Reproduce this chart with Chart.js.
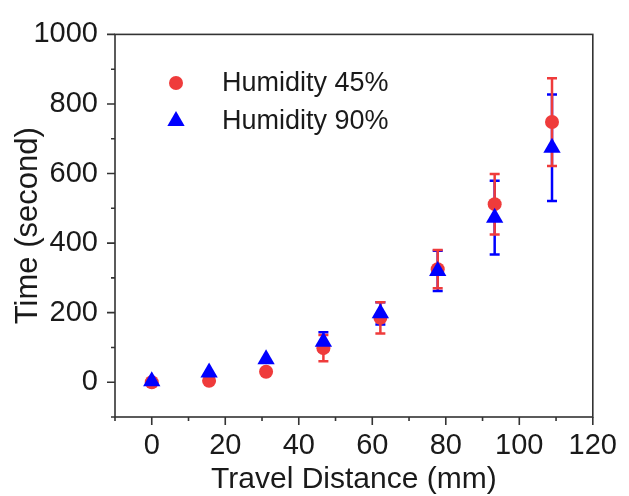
<!DOCTYPE html>
<html>
<head>
<meta charset="utf-8">
<script src="https://cdn.jsdelivr.net/npm/chart.js@4/dist/chart.umd.min.js"></script>
<style>
  html, body { margin: 0; padding: 0; background: #fff; }
  #wrap { width: 629px; height: 496px; }
</style>
</head>
<body>
<div id="wrap"><canvas id="chart" width="629" height="496"></canvas></div>
<script>
const distance = [0, 15.6, 31.1, 46.7, 62.2, 77.8, 93.3, 108.9];
const humidity45 = [0, 4, 30, 98, 185, 325, 512, 748];
const humidity45Err = [0, 0, 0, 38, 45, 55, 87, 126];
const humidity90 = [3, 28, 66, 116, 198, 320, 473, 674];
const humidity90Err = [0, 0, 0, 28, 32, 58, 106, 153];
const seriesLabels = ['Humidity 45%', 'Humidity 90%'];

const RED = '#ef3b3b';
const BLUE = '#0000ff';
const FONT = '"Liberation Sans", Arial, sans-serif';

const toPoints = vals => vals.map((v, i) => ({ x: distance[i], y: v }));

// error bars go under the markers
const errorBars = {
  id: 'errorBars',
  beforeDatasetsDraw(chart) {
    const { ctx, scales: { x, y } } = chart;
    [[1, humidity90Err], [0, humidity45Err]].forEach(([di, errs]) => {
      const ds = chart.data.datasets[di];
      ctx.save();
      ctx.strokeStyle = ds.backgroundColor;
      ctx.lineWidth = 2.5;
      ds.data.forEach((p, i) => {
        if (!errs[i]) return;
        const px = x.getPixelForValue(p.x);
        const top = y.getPixelForValue(p.y + errs[i]);
        const bot = y.getPixelForValue(p.y - errs[i]);
        ctx.beginPath();
        ctx.moveTo(px, top); ctx.lineTo(px, bot);
        ctx.moveTo(px - 5, top); ctx.lineTo(px + 5, top);
        ctx.moveTo(px - 5, bot); ctx.lineTo(px + 5, bot);
        ctx.stroke();
      });
      ctx.restore();
    });
  }
};

// box frame and outward ticks (major + minor)
const frame = {
  id: 'frame',
  afterDraw(chart) {
    const { ctx, chartArea: a, scales: { x, y } } = chart;
    ctx.save();
    ctx.strokeStyle = '#333';
    ctx.lineWidth = 1.6;
    ctx.strokeRect(a.left, a.top, a.right - a.left, a.bottom - a.top);
    ctx.beginPath();
    x.ticks.forEach(t => {
      const px = x.getPixelForValue(t.value);
      const len = t.value % 20 === 0 ? 8 : 4;
      ctx.moveTo(px, a.bottom); ctx.lineTo(px, a.bottom + len);
    });
    y.ticks.forEach(t => {
      const py = y.getPixelForValue(t.value);
      const len = t.value % 200 === 0 ? 8 : 4;
      ctx.moveTo(a.left - len, py); ctx.lineTo(a.left, py);
    });
    ctx.stroke();
    ctx.restore();
  }
};

// legend drawn inside the plot, top-left
const insideLegend = {
  id: 'insideLegend',
  afterDraw(chart) {
    const { ctx } = chart;
    const rows = [83, 121];
    ctx.save();
    chart.data.datasets.forEach((ds, i) => {
      ctx.fillStyle = ds.backgroundColor;
      Chart.helpers.drawPoint(ctx, {
        pointStyle: ds.pointStyle, radius: ds.pointRadius, rotation: 0, borderWidth: 0
      }, 176, rows[i]);
      ctx.fillStyle = '#1a1a1a';
      ctx.font = '27px ' + FONT;
      ctx.textBaseline = 'middle';
      ctx.textAlign = 'left';
      ctx.fillText(ds.label, 222, rows[i] + 1);
    });
    ctx.restore();
  }
};

new Chart(document.getElementById('chart'), {
  type: 'scatter',
  data: {
    datasets: [
      {
        label: seriesLabels[0],
        data: toPoints(humidity45),
        backgroundColor: RED,
        borderColor: RED,
        borderWidth: 0,
        pointStyle: 'circle',
        pointRadius: 7,
        order: 2,
      },
      {
        label: seriesLabels[1],
        data: toPoints(humidity90),
        backgroundColor: BLUE,
        borderColor: BLUE,
        borderWidth: 0,
        pointStyle: 'triangle',
        pointRadius: 10,
        order: 1,
      },
    ],
  },
  options: {
    responsive: false,
    animation: false,
    events: [],
    layout: { padding: { top: 25, right: 29, left: 0, bottom: 0 } },
    plugins: {
      legend: { display: false },
      tooltip: { enabled: false },
    },
    scales: {
      x: {
        type: 'linear',
        min: -10,
        max: 120,
        grid: { display: false, drawTicks: false },
        border: { display: false },
        ticks: {
          stepSize: 10,
          autoSkip: false,
          maxRotation: 0,
          padding: 12,
          color: '#1a1a1a',
          font: { family: FONT, size: 29 },
          callback: v => (v >= 0 && v % 20 === 0 ? String(v) : ''),
        },
        title: {
          display: true,
          text: 'Travel Distance (mm)',
          color: '#1a1a1a',
          font: { family: FONT, size: 30, lineHeight: 1.1 },
          padding: { top: 0, bottom: 0 },
        },
        afterFit: s => { s.height = 79; },
      },
      y: {
        type: 'linear',
        min: -100,
        max: 1000,
        grid: { display: false, drawTicks: false },
        border: { display: false },
        ticks: {
          stepSize: 100,
          autoSkip: false,
          padding: 17,
          color: '#1a1a1a',
          font: { family: FONT, size: 29 },
          callback: v => (v >= 0 && v % 200 === 0 ? String(v) : ''),
        },
        title: {
          display: true,
          text: 'Time (second)',
          color: '#1a1a1a',
          font: { family: FONT, size: 31, lineHeight: 1.2 },
          padding: { top: 10, bottom: 0 },
        },
        afterFit: s => { s.width = 115; },
      },
    },
  },
  plugins: [errorBars, frame, insideLegend],
});
</script>
</body>
</html>
